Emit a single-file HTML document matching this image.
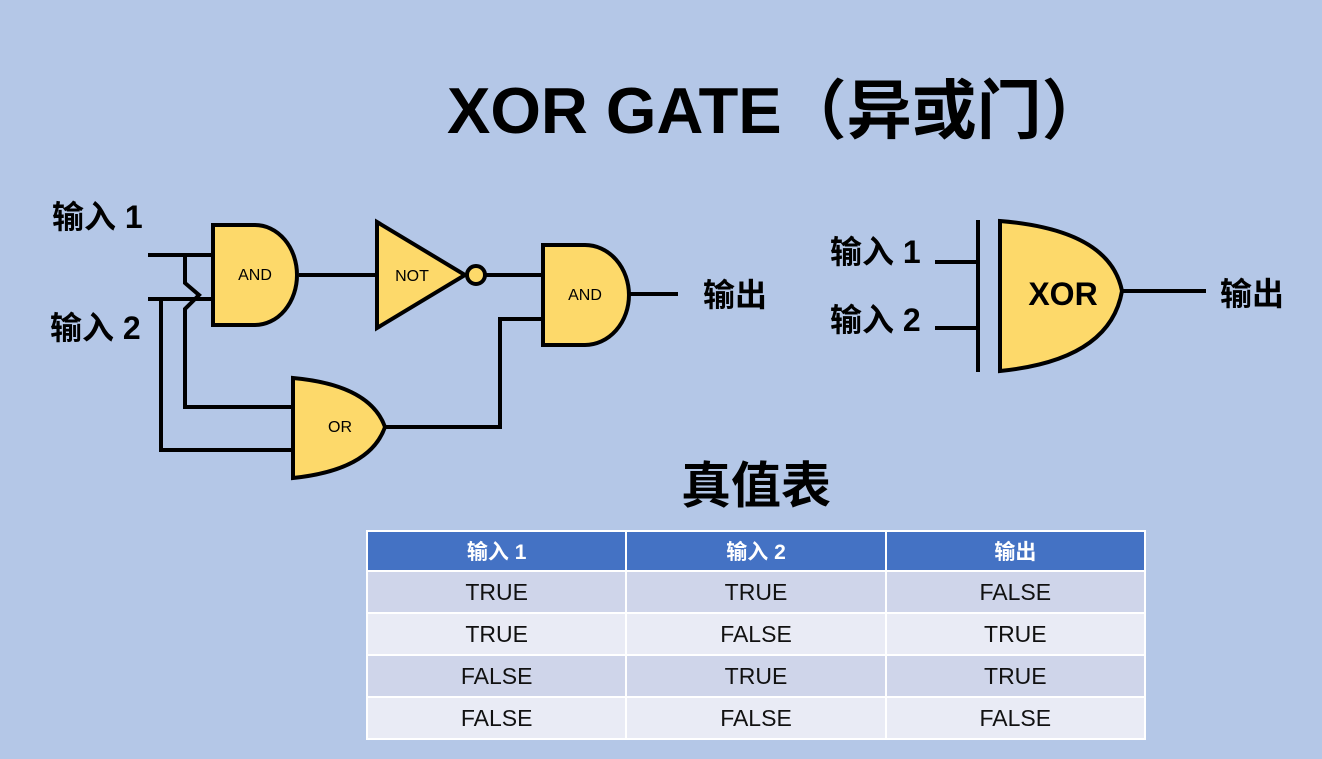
<!DOCTYPE html>
<html><head><meta charset="utf-8"><style>
html,body{margin:0;padding:0;}
body{width:1322px;height:759px;background:#b4c7e7;overflow:hidden;position:relative;font-family:"Liberation Sans","Noto Sans CJK SC",sans-serif;}
svg{position:absolute;left:0;top:0;}
table{position:absolute;left:366px;top:530px;border-collapse:collapse;width:780px;}
td,th{border:2px solid #fff;text-align:center;height:40px;font-size:23px;padding:0;color:#111;font-family:"Liberation Sans","Noto Sans CJK SC",sans-serif;}
th{background:#4472c4;color:#fff;font-weight:bold;font-size:21px;height:38px;}
tr.a td{background:#cfd5ea;}
tr.b td{background:#e9ebf5;}
</style></head><body>
<svg width="1322" height="759" viewBox="0 0 1322 759" font-family="Liberation Sans, Noto Sans CJK SC, sans-serif">
<rect x="0" y="0" width="1322" height="759" fill="#b4c7e7"/>
<text x="447" y="133" font-size="65" font-weight="bold" fill="#000">XOR GATE（异或门）</text>
<text x="756" y="503" font-size="50" font-weight="bold" text-anchor="middle" fill="#000">真值表</text>
<g font-size="32" font-weight="bold" fill="#000">
<text x="52" y="228">输入 1</text>
<text x="50" y="339">输入 2</text>
<text x="703" y="306">输出</text>
<text x="830" y="263">输入 1</text>
<text x="830" y="331">输入 2</text>
<text x="1220" y="305">输出</text>
</g>
<g stroke="#000" stroke-width="4" fill="none">
<path d="M148 255H213M148 299H213"/>
<path d="M185 255V283L199 295L185 309V407H293"/>
<path d="M161 299V450H293"/>
<path d="M299 275H377M485 275H543M629 294H678"/>
<path d="M385 427H500V319H543"/>
<path d="M935 262H978M935 328H978M978 220V372M1122 291H1206"/>
</g>
<g stroke="#000" stroke-width="4" fill="#fdd96a">
<path d="M213 225H255A42 50 0 0 1 255 325H213Z"/>
<path d="M543 245H585A44 50 0 0 1 585 345H543Z"/>
<path d="M377 222L465 275L377 328Z"/>
<circle cx="476" cy="275" r="9"/>
<path d="M293 378Q370 385 385 427Q370 470 293 478Z"/>
<path d="M1000 221Q1110 230 1122 291Q1110 360 1000 371Z"/>
</g>
<g font-size="16" fill="#000" text-anchor="middle">
<text x="255" y="280">AND</text>
<text x="585" y="300">AND</text>
<text x="412" y="281">NOT</text>
<text x="340" y="432">OR</text>
<text x="1063" y="305" font-size="32" font-weight="bold">XOR</text>
</g>
</svg>
<table>
<tr><th>输入 1</th><th>输入 2</th><th>输出</th></tr>
<tr class="a"><td>TRUE</td><td>TRUE</td><td>FALSE</td></tr>
<tr class="b"><td>TRUE</td><td>FALSE</td><td>TRUE</td></tr>
<tr class="a"><td>FALSE</td><td>TRUE</td><td>TRUE</td></tr>
<tr class="b"><td>FALSE</td><td>FALSE</td><td>FALSE</td></tr>
</table>
</body></html>
